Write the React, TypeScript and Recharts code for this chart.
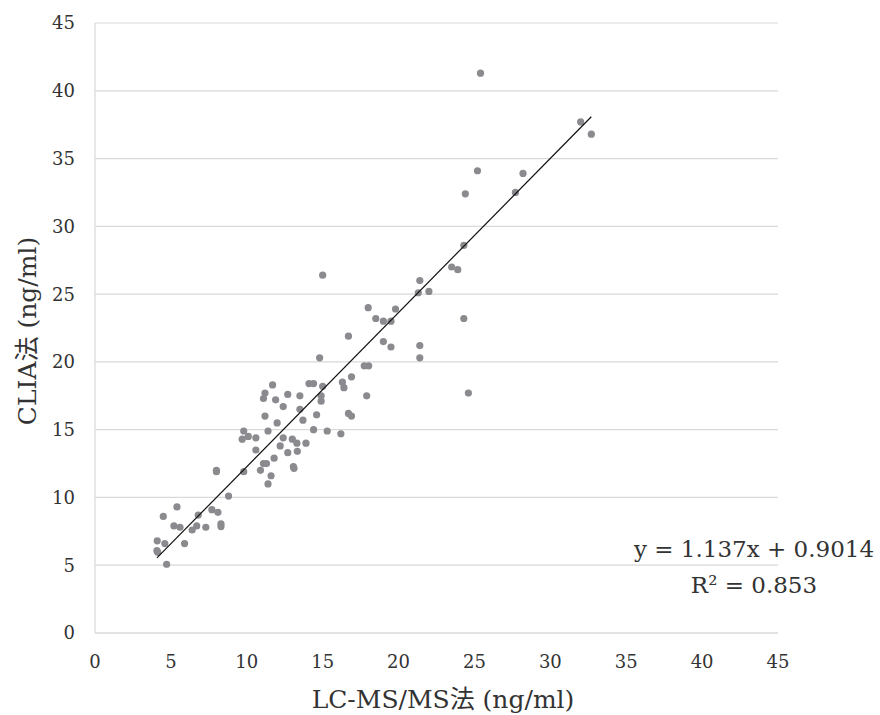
import React from 'react';
import { ScatterChart, Scatter, XAxis, YAxis, CartesianGrid, Customized } from 'recharts';

// LC-MS/MS method values (x) and CLIA method values (y), ng/ml
const lcmsValues = [
  11.7, 11.2, 11.1, 11.9, 12.7, 12.4, 11.2, 12.0, 11.4, 9.8,
  10.1, 9.7, 10.6, 12.4, 12.2, 10.6, 12.7, 11.8, 11.1, 11.3,
  10.9, 11.6, 11.4, 8.0, 8.0, 9.8, 13.07, 13.11, 8.8, 5.4,
  4.5, 6.8, 7.7, 8.1, 5.2, 5.6, 6.7, 6.4, 7.3, 8.3,
  8.3, 4.1, 4.6, 5.9, 4.08, 4.13, 4.72, 13.33,
  15.0, 18.0, 18.5, 19.0, 19.5, 19.8, 16.7, 19.0, 19.5, 14.8,
  17.74, 18.03, 16.9, 14.1, 14.4, 15.0, 16.3, 16.4, 17.9, 13.5,
  13.5, 14.9, 14.9, 14.6, 16.7, 16.9, 13.7, 16.2, 15.3, 14.4,
  13.0, 13.3, 13.9,
  24.4, 24.3, 23.5, 23.9, 21.4, 21.3, 22.0, 24.3, 21.4, 21.4, 24.6,
  25.4, 32.0, 32.7, 25.2, 28.2, 27.7,
];
const cliaValues = [
  18.3, 17.7, 17.3, 17.2, 17.6, 16.7, 16.0, 15.5, 14.9, 14.9,
  14.5, 14.3, 14.4, 14.4, 13.8, 13.5, 13.3, 12.9, 12.5, 12.5,
  12.0, 11.6, 11.0, 12.0, 11.9, 11.9, 12.27, 12.15, 10.1, 9.3,
  8.6, 8.7, 9.1, 8.9, 7.9, 7.8, 7.9, 7.6, 7.8, 8.05,
  7.85, 6.8, 6.6, 6.6, 6.07, 5.95, 5.07, 13.4,
  26.4, 24.0, 23.2, 23.0, 23.0, 23.9, 21.9, 21.5, 21.1, 20.3,
  19.71, 19.71, 18.9, 18.4, 18.4, 18.2, 18.5, 18.1, 17.5, 17.5,
  16.5, 17.5, 17.1, 16.1, 16.2, 16.0, 15.7, 14.7, 14.9, 15.0,
  14.3, 14.0, 14.0,
  32.4, 28.6, 27.0, 26.8, 26.0, 25.1, 25.2, 23.2, 21.2, 20.3, 17.7,
  41.3, 37.7, 36.8, 34.1, 33.9, 32.5,
];

const xTicks = [0, 5, 10, 15, 20, 25, 30, 35, 40, 45];
const yTicks = [0, 5, 10, 15, 20, 25, 30, 35, 40, 45];

const slope = 1.137;
const intercept = 0.9014;
const rSquared = 0.853;

const xTitle = 'LC-MS/MS法 (ng/ml)';
const yTitle = 'CLIA法 (ng/ml)';

const points = lcmsValues.map((x, i) => ({ x, y: cliaValues[i] }));
const xMin = Math.min(...lcmsValues);
const xMax = Math.max(...lcmsValues);
const trendData = [
  { x: xMin, y: slope * xMin + intercept },
  { x: xMax, y: slope * xMax + intercept },
];

const FONT = "'DejaVu Serif', 'Noto Sans CJK JP', serif";
const GRID = '#d9d9d9';
const TEXT = '#333333';

const Dot = (props: any) => {
  const { cx, cy } = props;
  if (cx == null || cy == null) return <g />;
  return <circle cx={cx} cy={cy} r={3.6} fill="#8b8b8f" />;
};

const NoDot = () => <g />;

const Annotations = () => (
  <g fontFamily={FONT} fill={TEXT}>
    <text x={754} y={557} fontSize={23} textAnchor="middle">
      {`y = ${slope}x + ${intercept}`}
    </text>
    <text x={754} y={593} fontSize={23} textAnchor="middle">
      {`R² = ${rSquared}`}
    </text>
    <text x={443} y={708} fontSize={25} textAnchor="middle">
      {xTitle}
    </text>
    <text
      x={0}
      y={0}
      fontSize={25}
      textAnchor="middle"
      transform="translate(36, 331) rotate(-90)"
    >
      {yTitle}
    </text>
  </g>
);

export default function App() {
  return (
    <div style={{ position: 'absolute', left: 0, top: 0, background: '#fff' }}>
      <ScatterChart
        width={880}
        height={715}
        margin={{ top: 23, right: 102, bottom: 0, left: 0 }}
      >
        <CartesianGrid vertical={false} stroke={GRID} strokeWidth={1.2} />
        <XAxis
          type="number"
          dataKey="x"
          domain={[0, 45]}
          ticks={xTicks}
          height={82}
          tickLine={false}
          axisLine={{ stroke: GRID, strokeWidth: 1.2 }}
          tickMargin={16}
          tick={{ fontSize: 18, fontFamily: FONT, fill: TEXT }}
          allowDataOverflow
        />
        <YAxis
          type="number"
          dataKey="y"
          domain={[0, 45]}
          ticks={yTicks}
          width={95}
          tickLine={false}
          axisLine={{ stroke: GRID, strokeWidth: 1.2 }}
          tickMargin={14}
          tick={{ fontSize: 18, fontFamily: FONT, fill: TEXT }}
          allowDataOverflow
        />
        <Scatter data={points} shape={Dot} isAnimationActive={false} />
        <Scatter
          data={trendData}
          shape={NoDot}
          line={{ stroke: '#111', strokeWidth: 1.2 }}
          isAnimationActive={false}
        />
        <Customized component={Annotations} />
      </ScatterChart>
    </div>
  );
}
